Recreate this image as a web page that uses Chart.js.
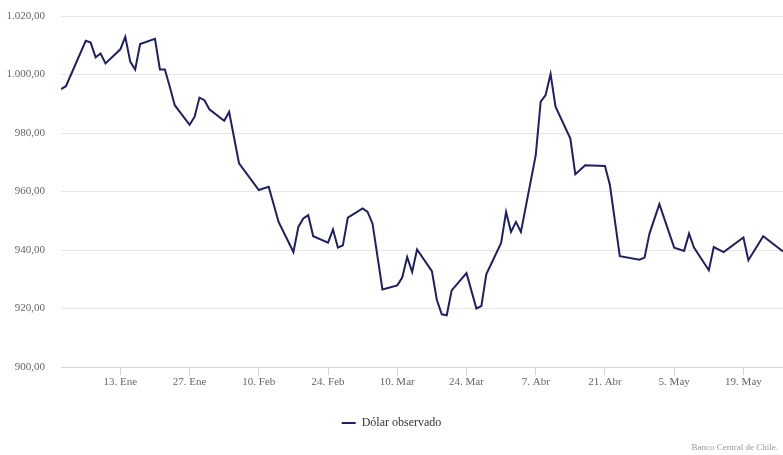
<!DOCTYPE html>
<html><head><meta charset="utf-8">
<script src="https://cdn.jsdelivr.net/npm/chart.js@4.4.1/dist/chart.umd.min.js"></script>
<style>html,body{margin:0;padding:0;background:#fff;} #wrap{width:783px;height:455px;position:relative;}</style>
</head><body><div id="wrap"><canvas id="c"></canvas></div>
<script>
const dates = [
"2025-01-01","2025-01-02","2025-01-06","2025-01-07","2025-01-08","2025-01-09","2025-01-10",
"2025-01-13","2025-01-14","2025-01-15","2025-01-16","2025-01-17","2025-01-20","2025-01-21",
"2025-01-22","2025-01-23","2025-01-24","2025-01-27","2025-01-28","2025-01-29","2025-01-30",
"2025-01-31","2025-02-03","2025-02-04","2025-02-06","2025-02-10","2025-02-12","2025-02-14",
"2025-02-17","2025-02-18","2025-02-19","2025-02-20","2025-02-21","2025-02-24","2025-02-25",
"2025-02-26","2025-02-27","2025-02-28","2025-03-03","2025-03-04","2025-03-05","2025-03-07",
"2025-03-10","2025-03-11","2025-03-12","2025-03-13","2025-03-14","2025-03-17","2025-03-18",
"2025-03-19","2025-03-20","2025-03-21","2025-03-24","2025-03-26","2025-03-27","2025-03-28",
"2025-03-31","2025-04-01","2025-04-02","2025-04-03","2025-04-04","2025-04-07","2025-04-08",
"2025-04-09","2025-04-10","2025-04-11","2025-04-14","2025-04-15","2025-04-17","2025-04-21",
"2025-04-22","2025-04-24","2025-04-28","2025-04-29","2025-04-30","2025-05-02","2025-05-05",
"2025-05-07","2025-05-08","2025-05-09","2025-05-12","2025-05-13","2025-05-15","2025-05-19",
"2025-05-20","2025-05-23","2025-05-27"];
const values = [
995.0,996.0,1011.5,1010.9,1005.9,1007.2,1003.8,
1008.6,1012.9,1004.4,1001.7,1010.4,1012.2,1001.7,
1001.7,995.8,989.5,982.8,985.5,992.1,991.2,
988.1,984.2,987.2,969.6,960.5,961.6,949.6,
939.3,947.9,950.8,951.9,944.7,942.5,947.0,
940.8,941.6,951.1,954.2,953.0,949.0,926.5,
927.9,930.6,937.6,932.5,940.2,932.8,923.0,
918.0,917.7,926.2,932.1,920.0,920.8,931.7,
942.4,953.0,946.2,949.6,946.2,972.4,990.7,
993.0,1000.2,989.0,978.1,965.9,969.0,968.7,
962.2,937.9,936.7,937.4,945.6,955.7,940.8,
939.7,945.6,940.8,933.1,941.0,939.3,944.3,
936.5,944.7,939.5];
const tickDates = ["2025-01-13","2025-01-27","2025-02-10","2025-02-24","2025-03-10","2025-03-24","2025-04-07","2025-04-21","2025-05-05","2025-05-19"];
const tickLabels = ["13. Ene","27. Ene","10. Feb","24. Feb","10. Mar","24. Mar","7. Abr","21. Abr","5. May","19. May"];
const yTicks = [900,920,940,960,980,1000,1020];
const seriesName = "Dólar observado";
const creditText = "Banco Central de Chile.";

const DAY = 86400000;
const toDay = s => Date.UTC(+s.slice(0,4), +s.slice(5,7)-1, +s.slice(8,10)) / DAY;
const points = dates.map((d,i)=>({x: toDay(d), y: values[i]}));
const tickDays = tickDates.map(toDay);
const fmt = v => { const s = Number(v).toFixed(2); const [a,b] = s.split('.'); return a.replace(/\B(?=(\d{3})+(?!\d))/g,'.') + ',' + b; };
const FONT = "'Liberation Serif', 'DejaVu Serif', serif";

const credits = {
  id: 'credits',
  afterDraw(chart){
    const ctx = chart.ctx;
    ctx.save();
    ctx.font = "9px " + FONT;
    ctx.fillStyle = '#999999';
    ctx.textAlign = 'right';
    ctx.textBaseline = 'middle';
    ctx.fillText(creditText, 778, 448);
    ctx.restore();
  }
};

new Chart(document.getElementById('c'), {
  type: 'line',
  data: { datasets: [{
    label: seriesName,
    data: points,
    borderColor: '#1f1f66',
    backgroundColor: '#1f1f66',
    borderWidth: 2,
    pointRadius: 0,
    pointStyle: 'line',
    tension: 0,
    fill: false
  }]},
  options: {
    responsive: true,
    maintainAspectRatio: false,
    animation: false,
    layout: { padding: { top: 16, right: 0, bottom: 16, left: 0 } },
    scales: {
      x: {
        type: 'linear',
        min: points[0].x,
        max: points[points.length-1].x,
        afterBuildTicks: s => { s.ticks = tickDays.map(v => ({value: v})); },
        afterFit: s => { s.height = 40; s.paddingLeft = 0; s.paddingRight = 0; },
        ticks: { autoSkip: false, maxRotation: 0, padding: 1, color: '#666666',
                 font: { family: FONT, size: 11 },
                 callback: (v, i) => tickLabels[i] },
        grid: { drawOnChartArea: false, drawTicks: true, tickLength: 8, color: '#ccd6eb' },
        border: { color: '#ccd6eb' }
      },
      y: {
        min: 900, max: 1020,
        afterBuildTicks: s => { s.ticks = yTicks.map(v => ({value: v})); },
        afterFit: s => { s.width = 61; s.paddingTop = 0; s.paddingBottom = 0; },
        ticks: { padding: 16, color: '#666666', font: { family: FONT, size: 11 }, callback: v => fmt(v) },
        grid: { color: '#e6e6e6', drawTicks: false },
        border: { display: false }
      }
    },
    plugins: {
      legend: {
        position: 'bottom',
        labels: { usePointStyle: true, pointStyle: 'line', pointStyleWidth: 14, color: '#333333',
                  font: { family: FONT, size: 12 }, padding: 10 }
      },
      tooltip: { enabled: false }
    }
  },
  plugins: [credits]
});
</script>
</body></html>
